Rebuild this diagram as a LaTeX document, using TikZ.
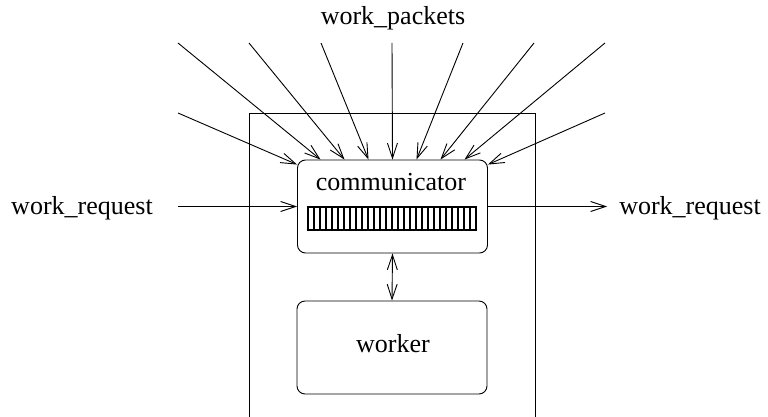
\documentclass[tikz,border=0pt]{standalone}
\usepackage{fontspec}
\setmainfont{Liberation Serif}
\usetikzlibrary{arrows.meta}
\begin{document}
\begin{tikzpicture}[x=1pt,y=-1pt,
  every path/.style={line width=0.9pt},
  flow/.style={-{Straight Barb[length=15pt,width=10pt,line width=0.9pt]}},
  twoway/.style={{Straight Barb[length=15pt,width=10pt,line width=0.9pt]}-{Straight Barb[length=15pt,width=10pt,line width=0.9pt]}},
  procbox/.style={draw,rounded corners=8pt,minimum width=190pt,minimum height=93pt,inner sep=0pt},
  lbl/.style={font=\fontsize{26}{30}\selectfont,inner sep=0pt,anchor=base}]
\useasboundingbox (0,0) rectangle (768,417);

% enclosing process frame (runs past the lower edge)
\draw (249,425) -- (249,113) -- (535,113) -- (535,425);

% communicator with its message buffer, and the worker
\node[procbox] (comm) at (392.5,206.5) {};
\node[lbl] (commtxt) at (391,190) {communicator};
\node[draw,line width=1.1pt,minimum width=168pt,minimum height=23pt,inner sep=0pt] (buf) at (392,218.5) {};
\foreach \i in {1,...,27} \draw[line width=1.1pt] (308+6*\i,207) -- (308+6*\i,230);
\node[procbox] (work) at (392,347.5) {};
\node[lbl] (worktxt) at (393,352) {worker};

% labels
\node[lbl] (pk) at (393,25) {work\_packets};
\node[lbl] (reqin) at (82,214) {work\_request};
\node[lbl] (reqout) at (690,214) {work\_request};

% incoming work packets
\foreach \sx/\ex [count=\k] in {178/-72,249/-48,321/-24,392/0,463/24,534/48,605/72}{
  \coordinate (p\k) at (\sx,43);
  \draw[flow] (p\k) -- ([xshift=\ex pt]comm.north);
}
\coordinate (pl) at (178,113);
\coordinate (pr) at (605,113);
\draw[flow] (pl) -- ([yshift=-5pt]comm.north west);
\draw[flow] (pr) -- ([yshift=-5pt]comm.north east);

% work requests in and out
\coordinate (rin) at (178,206.5);
\coordinate (rout) at (607,206.5);
\draw[flow] (rin) -- (comm.west);
\draw[flow] (comm.east) -- (rout);

% communicator <-> worker
\draw[twoway] (comm.south) -- (work.north);
\end{tikzpicture}
\end{document}
